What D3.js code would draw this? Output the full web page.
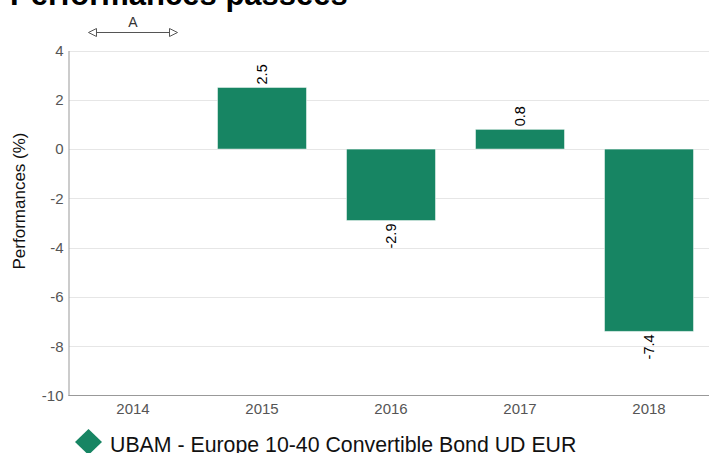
<html>
<head>
<meta charset="utf-8">
<title>Performances passées</title>
<script type="text/javascript" src="https://cdn.jsdelivr.net/npm/d3@7/dist/d3.min.js"></script>
<style>
    body { margin: 0; background: #fff; }
    text { font-family: "Liberation Sans", Arial, sans-serif; }
</style>
</head>
<body>
<div id="chart"></div>

<script type="text/javascript">
var years = ['2014', '2015', '2016', '2017', '2018'];
var perf = [null, 2.5, -2.9, 0.8, -7.4];
var yTicks = [4, 2, 0, -2, -4, -6, -8, -10];
var seriesName = 'UBAM - Europe 10-40 Convertible Bond UD EUR';
var noteYear = '2014';
var noteText = 'A';

var width = 709, height = 453;
var barColor = '#178563';

var svg = d3.select('#chart').append('svg')
            .attr('width', width)
            .attr('height', height);

var x = d3.scaleBand()
          .domain(years)
          .range([68.5, 713.5])
          .paddingInner(0.31)
          .paddingOuter(0.155);

var y = d3.scaleLinear()
          .domain([-10, 4])
          .range([395.5, 50.5]);

// title, sits partly above the window
svg.append('text')
   .attr('x', 10)
   .attr('y', 5)
   .style('font-size', '31px')
   .style('font-weight', 'bold')
   .attr('fill', '#000')
   .text('Performances passées');

// grid
svg.append('g')
   .selectAll('line')
   .data(yTicks.filter(function(d) { return d !== -10; }))
   .enter().append('line')
   .attr('x1', 69).attr('x2', width)
   .attr('y1', function(d) { return Math.round(y(d)) + 0.5; })
   .attr('y2', function(d) { return Math.round(y(d)) + 0.5; })
   .attr('stroke', '#e6e6e6')
   .attr('stroke-width', 1);

// y axis
var yAxis = svg.append('g')
               .attr('transform', 'translate(68.5,0)')
               .call(d3.axisLeft(y).tickValues(yTicks).tickSize(0).tickPadding(5)
                       .tickFormat(function(d) { return String(d); }));
yAxis.select('.domain').attr('stroke', '#999');
yAxis.selectAll('text')
     .style('font-size', '15px')
     .style('font-family', '"Liberation Sans", Arial, sans-serif')
     .attr('fill', '#555');

// x axis
var xAxis = svg.append('g')
               .attr('transform', 'translate(0,395.5)')
               .call(d3.axisBottom(x).tickSize(0).tickPadding(8));
xAxis.select('.domain').attr('stroke', '#999').attr('d', 'M68.5,0H' + width);
xAxis.selectAll('text')
     .style('font-size', '15px')
     .style('font-family', '"Liberation Sans", Arial, sans-serif')
     .attr('fill', '#555');

svg.append('text')
   .attr('transform', 'translate(25,201) rotate(-90)')
   .attr('text-anchor', 'middle')
   .style('font-size', '17px')
   .attr('fill', '#111')
   .text('Performances (%)');

// bars
var data = years.map(function(d, i) { return { year: d, value: perf[i] }; })
                .filter(function(d) { return d.value !== null; });

svg.append('g')
   .selectAll('rect')
   .data(data)
   .enter().append('rect')
   .attr('x', function(d) { return x(d.year); })
   .attr('y', function(d) { return y(Math.max(0, d.value)); })
   .attr('width', x.bandwidth())
   .attr('height', function(d) { return Math.abs(y(d.value) - y(0)); })
   .attr('fill', barColor)
   .attr('stroke', '#fff')
   .attr('stroke-opacity', 0.5)
   .attr('stroke-width', 1);

svg.append('g')
   .selectAll('text')
   .data(data)
   .enter().append('text')
   .attr('transform', function(d) {
       var cx = x(d.year) + x.bandwidth() / 2;
       var cy = d.value >= 0 ? y(d.value) - 3 : y(d.value) + 3;
       return 'translate(' + cx + ',' + cy + ') rotate(-90)';
   })
   .attr('dy', '0.35em')
   .attr('text-anchor', function(d) { return d.value >= 0 ? 'start' : 'end'; })
   .style('font-size', '14.5px')
   .attr('fill', '#000')
   .text(function(d) { return d.value; });

// annotation over the empty year
var ax0 = x(noteYear), ax1 = x(noteYear) + x.bandwidth();
svg.append('line')
   .attr('x1', ax0 + 8).attr('x2', ax1 - 8)
   .attr('y1', 32.5).attr('y2', 32.5)
   .attr('stroke', '#555');
svg.append('path')
   .attr('d', 'M' + ax0 + ',32.5L' + (ax0 + 8) + ',28.5L' + (ax0 + 8) + ',36.5Z')
   .attr('fill', '#fff').attr('stroke', '#555');
svg.append('path')
   .attr('d', 'M' + ax1 + ',32.5L' + (ax1 - 8) + ',28.5L' + (ax1 - 8) + ',36.5Z')
   .attr('fill', '#fff').attr('stroke', '#555');
svg.append('text')
   .attr('x', (ax0 + ax1) / 2)
   .attr('y', 27)
   .attr('text-anchor', 'middle')
   .style('font-size', '14px')
   .attr('fill', '#333')
   .text(noteText);

// legend
svg.append('path')
   .attr('d', 'M0,-13L13.5,0L0,13L-13.5,0Z')
   .attr('transform', 'translate(88.5,442)')
   .attr('fill', barColor);
svg.append('text')
   .attr('x', 110)
   .attr('y', 451.5)
   .style('font-size', '21.3px')
   .attr('fill', '#111')
   .text(seriesName);
</script>
</body>
</html>
